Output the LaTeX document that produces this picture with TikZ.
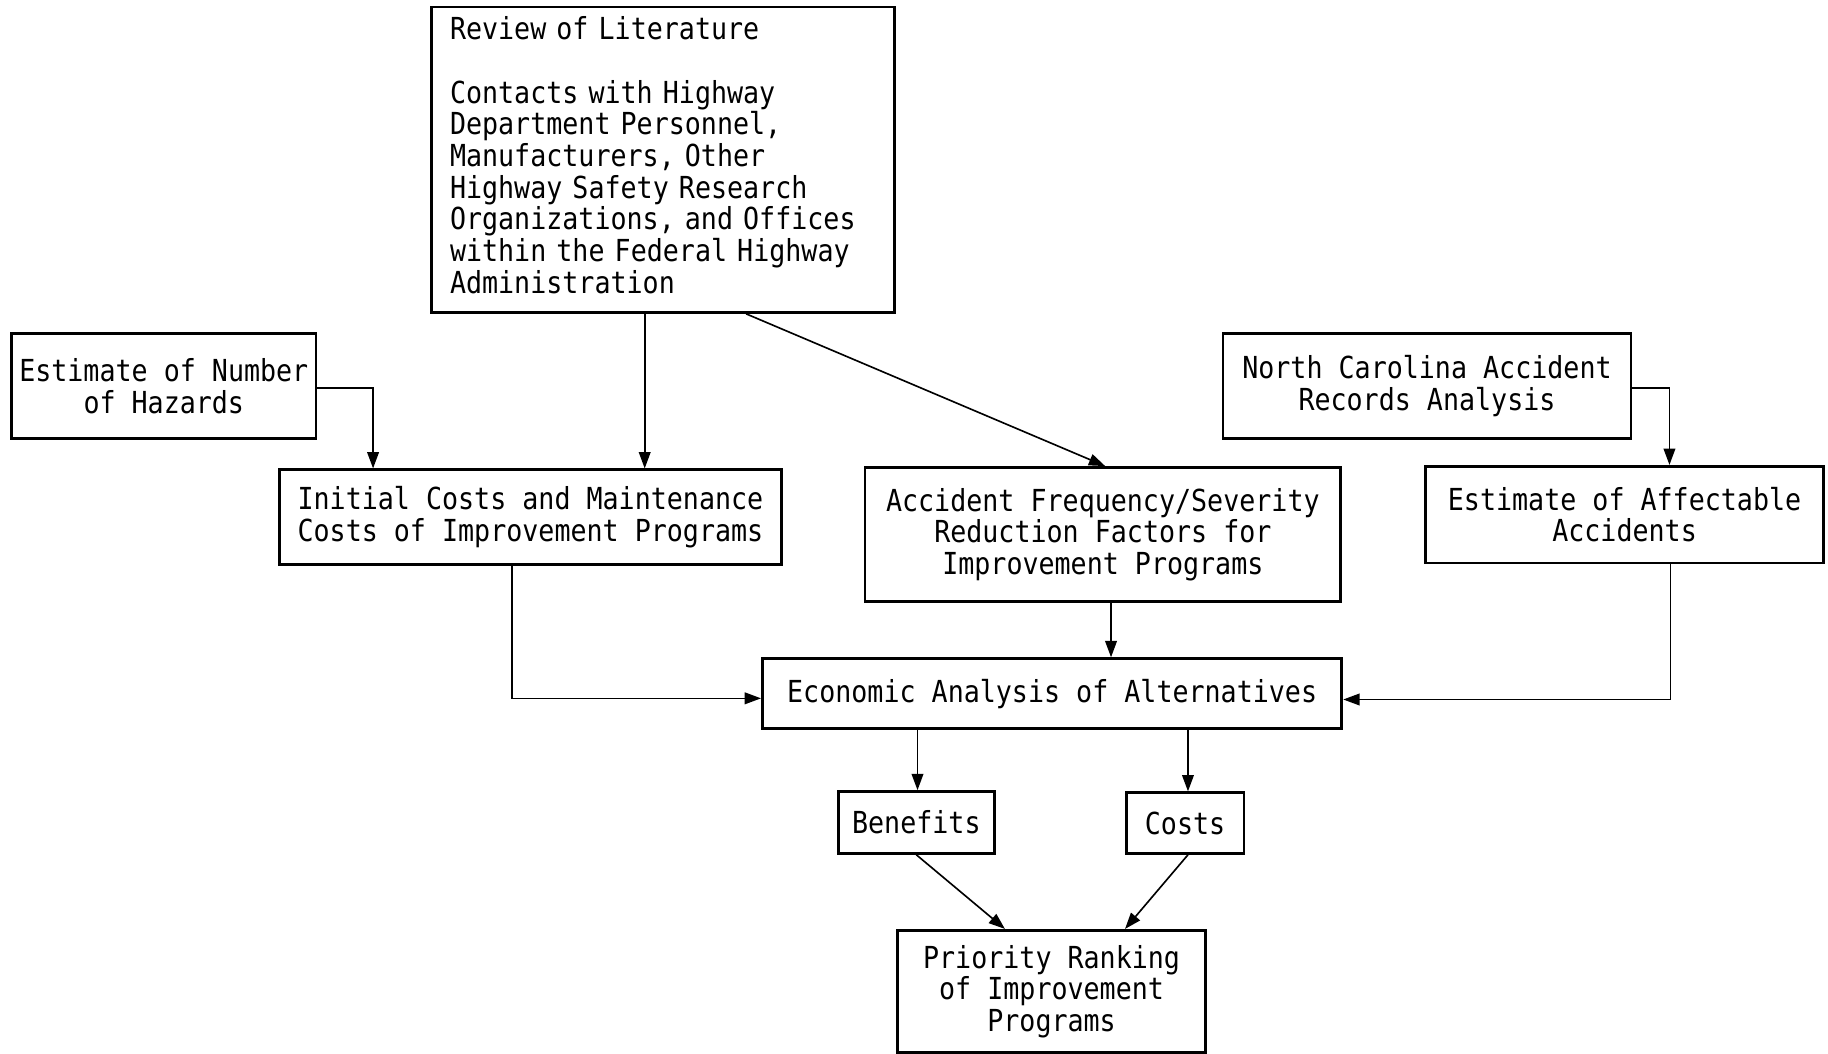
\documentclass[tikz,border=0pt]{standalone}
\usepackage{fontspec}
\newfontfamily\tw[FakeStretch=0.88]{DejaVu Sans Mono}
\usetikzlibrary{arrows.meta}
\begin{document}
\begin{tikzpicture}[x=0.5pt,y=-0.5pt,
  box/.style={draw, line width=1.2pt, inner sep=0pt, align=center,
    font=\tw\fontsize{13pt}{13.6pt}\selectfont},
  arr/.style={line width=0.7pt, -{Triangle[length=7pt,width=5pt]}}]
\useasboundingbox (0,0) rectangle (1568,904);
\node[box, minimum width=198.5pt, minimum height=131pt, text width=182.5pt, align=left] (rev) at (568.5,137)
  {Review of Literature\\[13.6pt]Contacts with Highway\\Department Personnel,\\Manufacturers, Other\\Highway Safety Research\\Organizations, and Offices\\within the Federal Highway\\Administration\\[-9.5pt]\mbox{}};
\node[box, minimum width=130.5pt, minimum height=45pt] (estn) at (140.5,331) {Estimate of Number\\of Hazards};
\node[box, minimum width=215pt, minimum height=40.5pt] (init) at (455,443.5) {Initial Costs and Maintenance\\Costs of Improvement Programs};
\node[box, minimum width=204pt, minimum height=57.5pt] (accf) at (946,458.5) {Accident Frequency/Severity\\Reduction Factors for\\Improvement Programs};
\node[box, minimum width=175pt, minimum height=45pt] (nc) at (1224,331) {North Carolina Accident\\Records Analysis};
\node[box, minimum width=170.5pt, minimum height=41.5pt] (aff) at (1393.5,441.5) {Estimate of Affectable\\Accidents};
\node[box, minimum width=248.5pt, minimum height=30pt] (econ) at (902.5,595) {Economic Analysis of Alternatives};
\node[box, minimum width=67pt, minimum height=26.5pt] (ben) at (786,705.5) {Benefits};
\node[box, minimum width=50.5pt, minimum height=26pt] (cost) at (1016.5,706) {Costs};
\node[box, minimum width=132pt, minimum height=52.5pt] (pri) at (902,850.5) {Priority Ranking\\of Improvement\\Programs};

\draw[arr] ([yshift=-1pt]estn.east) -| (init.north -| 320,0);
\draw[arr] (rev.south -| 553,0) -- (init.north -| 553,0);
\draw[arr] (rev.south -| 640,0) -- (accf.north -| 948,0);
\draw[arr] ([yshift=-1pt]nc.east) -| (aff.north -| 1432,0);
\draw[arr] (init.south -| 439,0) |- ([yshift=-2pt]econ.west);
\draw[arr] (accf.south -| 953,0) -- (econ.north -| 953,0);
\draw[arr] (aff.south -| 1433,0) |- ([yshift=-2.5pt]econ.east);
\draw[arr] (econ.south -| 787,0) -- (ben.north -| 787,0);
\draw[arr] (econ.south -| 1019,0) -- (cost.north -| 1019,0);
\draw[arr] (ben.south) -- (pri.north -| 862,0);
\draw[arr] (cost.south -| 1019,0) -- (pri.north -| 965,0);
\end{tikzpicture}
\end{document}
